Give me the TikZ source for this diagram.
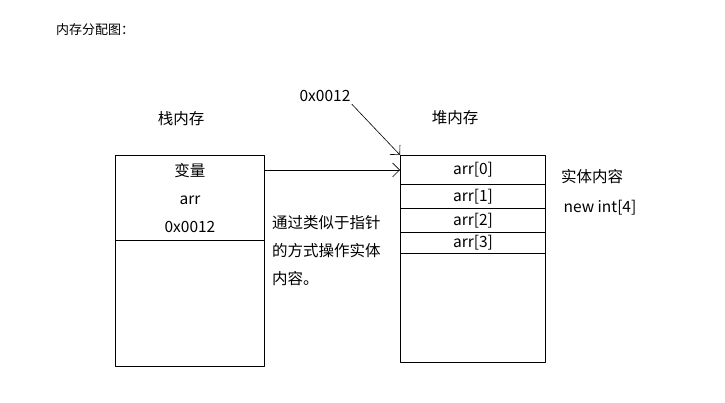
\documentclass[tikz,border=0pt]{standalone}
\usepackage{fontspec}
\setmainfont{Noto Sans CJK SC}
\usetikzlibrary{arrows.meta,positioning}
\begin{document}
\begin{tikzpicture}[x=1pt, y=-1pt, font=\fontsize{15.5}{28}\selectfont, line join=round, line cap=round,
  >={Straight Barb[length=7pt,width=14pt]},
  cell/.style={draw, line width=0.9pt, minimum width=145, anchor=north west, inner sep=0pt},
  slot/.style={draw, line width=0.9pt, minimum width=149, anchor=north west, inner sep=0pt, align=center}]
 \useasboundingbox[fill=white] (0,0) rectangle (725,403);
 \node[font=\fontsize{13}{14}\selectfont] (title) at (95,30) {内存分配图：};
 % stack side
 \node (stacklbl) at (181,119) {栈内存};
 \node[slot, minimum height=85] (stacktop) at (115,155) {变量\\arr\\0x0012};
 \node[slot, minimum height=126] (stackbot) at (115,240) {};
 % heap side
 \node (heaplbl) at (455,118) {堆内存};
 \foreach \i/\top/\h/\t in {0/155/29/{arr[0]}, 1/184/24/{arr[1]}, 2/208/24/{arr[2]}, 3/232/21/{arr[3]}, 4/253/109/{}}
   \node[cell, minimum height=\h] (cell\i) at (400,\top) {\t};
 \node (entity) at (592,177) {实体内容};
 \node (newint) at (600,208) {new int[4]};
 \node[anchor=north west, align=left, inner sep=0pt] (note) at (272,215) {通过类似于指针\\的方式操作实体\\内容。};
 % pointer
 \node (addr) at (325,96) {0x0012};
 \draw[->, line width=0.6pt] (stacktop.east |- cell0.west) -- (cell0.west);
 \draw[->, line width=0.6pt] ([xshift=-2pt,yshift=1pt]addr.south east) -- (cell0.north west);
\end{tikzpicture}
\end{document}
